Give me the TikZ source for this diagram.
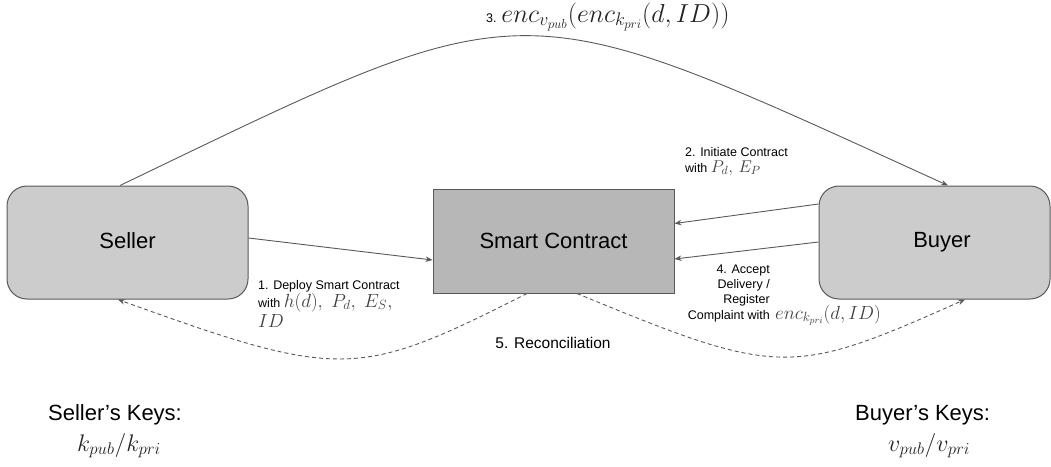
\RequirePackage{fix-cm}
\documentclass[tikz,border=0pt]{standalone}
\usepackage[no-math]{fontspec}
\setmainfont{Liberation Sans}
\usetikzlibrary{arrows.meta}
\definecolor{edge}{HTML}{595959}
\definecolor{boxA}{HTML}{CCCCCC}
\definecolor{boxB}{HTML}{B7B7B7}
\definecolor{mathgray}{HTML}{404040}
\definecolor{keygray}{HTML}{222222}
\newcommand{\myfs}[1]{\fontsize{#1}{#1}\selectfont}
\begin{document}
\begin{tikzpicture}[x=1pt,y=-1pt,
  box/.style={draw=edge, line width=1pt, minimum width=241pt, minimum height=113pt, inner sep=0pt, font=\myfs{22}},
  conn/.style={draw=edge, line width=0.9pt, -{Stealth[length=7pt,width=5.5pt]}},
  dconn/.style={conn, dash pattern=on 4pt off 3pt},
  lbl/.style={inner sep=0pt, font=\myfs{12.5}},
  big/.style={inner sep=0pt, font=\myfs{22}},
]
\useasboundingbox (0,0) rectangle (1051,466);

\node[box, fill=boxA, rounded corners=20pt] (seller) at (127.5,242.5) {\raisebox{3.5pt}{Seller}\hspace{18pt}};
\node[box, fill=boxB, minimum height=104pt] (sc) at (553.5,241) {Smart Contract\hspace{7pt}};
\node[box, fill=boxA, rounded corners=20pt, minimum width=231pt] (buyer) at (934.5,242.5) {\hspace{15pt}\raisebox{3pt}{Buyer}};

\draw[conn] ([yshift=4.5pt]seller.east) -- ([yshift=-19pt]sc.west);
\draw[conn] ([yshift=38.5pt]buyer.west) -- ([yshift=17.5pt]sc.east);
\draw[conn] ([yshift=0.5pt]buyer.west) -- ([yshift=-18pt]sc.east);
\draw[conn] ([xshift=-7.5pt]seller.north) .. controls (535,-14) and (510,-14) .. ([xshift=13.5pt]buyer.north);
\draw[dconn] ([xshift=-26.5pt]sc.south) .. controls (358,379) and (341,380) .. ([xshift=-9.5pt]seller.south);
\draw[dconn] ([xshift=23.5pt]sc.south) .. controls (779,377) and (791,377) .. ([xshift=30.5pt]buyer.south);

\node[lbl, anchor=base west] (l3) at (486,22) {3. {\myfs{26}\color{keygray}$enc_{v_{pub}}(enc_{k_{pri}}(d,ID))$}};

\node[lbl, anchor=base west] (l2a) at (685,156) {2. Initiate Contract};
\node[lbl, anchor=base west] (l2b) at (685,172) {with {\myfs{17}\color{mathgray}$P_d,\, E_P$}};

\node[lbl, anchor=base west] (l1a) at (258,289) {1. Deploy Smart Contract};
\node[lbl, anchor=base west] (l1b) at (258,307) {with {\myfs{19}\color{mathgray}$h(d),\ P_d,\ E_S,$}};
\node[lbl, anchor=base west] (l1c) at (258,327) {{\myfs{19}\color{mathgray}$ID$}};

\node[lbl, anchor=base east] (l4a) at (770,273) {4. Accept};
\node[lbl, anchor=base east] (l4b) at (770,288) {Delivery /};
\node[lbl, anchor=base east] (l4c) at (770,303) {Register};
\node[lbl, anchor=base east] (l4d) at (770,319) {Complaint with};
\node[lbl, anchor=base west] (l4e) at (775,319) {{\myfs{19}\color{mathgray}$enc_{k_{pri}}(d,ID)$}};

\node[inner sep=0pt, font=\myfs{15.5}, anchor=base] (l5) at (553,348) {5. Reconciliation};

\node[big, anchor=base west] (sk) at (48,420) {Seller’s Keys:};
\node[inner sep=0pt, anchor=base west] (skm) at (77,451) {\myfs{24}\color{keygray}$k_{pub}/k_{pri}$};
\node[big, anchor=base west] (bk) at (855,420) {Buyer’s Keys:};
\node[inner sep=0pt, anchor=base west] (bkm) at (888,451) {\myfs{24}\color{keygray}$v_{pub}/v_{pri}$};
\end{tikzpicture}
\end{document}
